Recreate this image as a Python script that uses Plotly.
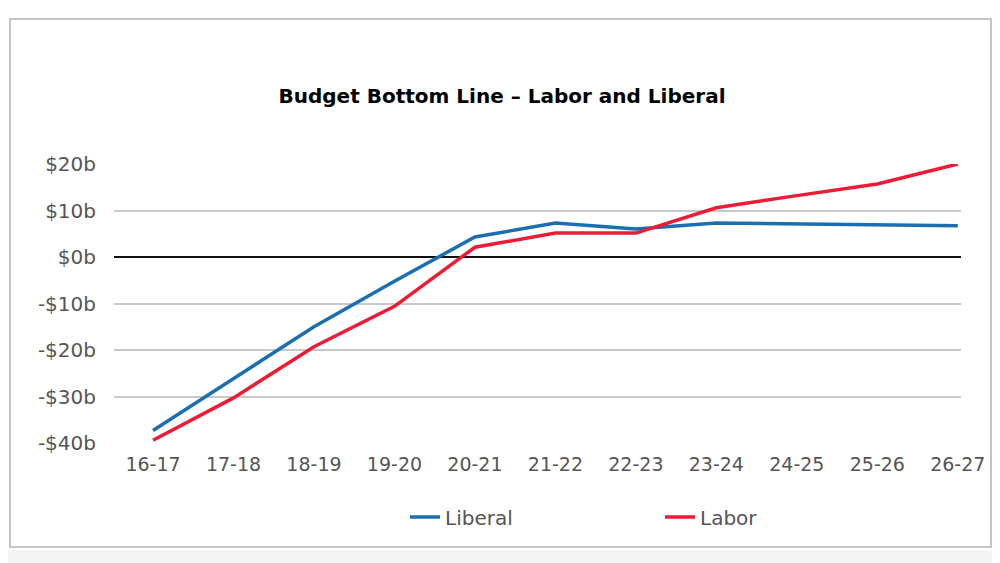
import plotly.graph_objects as go

# Financial years on the x axis
years = ["16-17", "17-18", "18-19", "19-20", "20-21", "21-22",
         "22-23", "23-24", "24-25", "25-26", "26-27"]

# Budget bottom line in $ billions
liberal = [-37.3, -26.2, -15.0, -5.2, 4.3, 7.3, 6.0, 7.3, 7.1, 6.9, 6.7]
labor = [-39.4, -30.3, -19.3, -10.6, 2.1, 5.15, 5.15, 10.6, 13.2, 15.7, 20.0]

y_ticks = [20, 10, 0, -10, -20, -30, -40]
y_labels = ["$20b", "$10b", "$0b", "-$10b", "-$20b", "-$30b", "-$40b"]

# the page has an 8px body margin, so the figure is a bit smaller
OFF = 8
W, H = 1000 - OFF, 563 - OFF
ml, mr, mt, mb = 114 - OFF, 39, 164 - OFF, 120
pw, ph = W - ml - mr, H - mt - mb


def px_x(p):
    # page pixel -> paper fraction
    return (p - OFF - ml) / pw


def px_y(p):
    return (H - mb - (p - OFF)) / ph


fig = go.Figure()
fig.add_trace(go.Scatter(x=years, y=liberal, name="Liberal", mode="lines",
                         line=dict(color="#1b6fb0", width=3.5),
                         cliponaxis=False))
fig.add_trace(go.Scatter(x=years, y=labor, name="Labor", mode="lines",
                         line=dict(color="#ee1b35", width=3.5),
                         cliponaxis=False))

# outer frame around the whole chart, light strip underneath
fig.add_shape(type="rect", xref="paper", yref="paper",
              x0=px_x(0), x1=px_x(1000), y0=px_y(563), y1=px_y(550),
              line=dict(width=0), fillcolor="#f4f4f4", layer="below")
fig.add_shape(type="rect", xref="paper", yref="paper",
              x0=px_x(10), x1=px_x(991), y0=px_y(547), y1=px_y(19),
              line=dict(color="#c4c4c4", width=2), fillcolor="white",
              layer="below")

fig.update_layout(
    width=W, height=H,
    margin=dict(l=ml, r=mr, t=mt, b=mb),
    paper_bgcolor="white", plot_bgcolor="rgba(0,0,0,0)",
    title=dict(text="<b>Budget Bottom Line – Labor and Liberal</b>",
               x=px_x(502), xref="paper", xanchor="center",
               y=1 - (96 - OFF) / H, yanchor="middle",
               font=dict(family="DejaVu Sans", size=20, color="black")),
    font=dict(family="DejaVu Sans", size=20, color="#555555"),
    showlegend=True,
    legend=dict(orientation="h", x=px_x(405), xanchor="left",
                y=px_y(517), yanchor="middle",
                entrywidth=210, font=dict(size=20, color="#555555"),
                bgcolor="rgba(0,0,0,0)"),
    hovermode=False,
)
fig.update_xaxes(type="category", range=[-0.485, 10.04],
                 showgrid=False, zeroline=False, showline=False,
                 ticks="", ticklabelstandoff=8,
                 tickfont=dict(size=19, color="#555555"))
fig.update_yaxes(range=[-40, 20], tickvals=y_ticks, ticktext=y_labels,
                 showgrid=True, gridcolor="#c8c8c8", gridwidth=1.5,
                 zeroline=True, zerolinecolor="#111111", zerolinewidth=2,
                 showline=False, ticks="", ticklabelstandoff=17,
                 tickfont=dict(size=20, color="#555555"))

fig.write_html("out.html")
